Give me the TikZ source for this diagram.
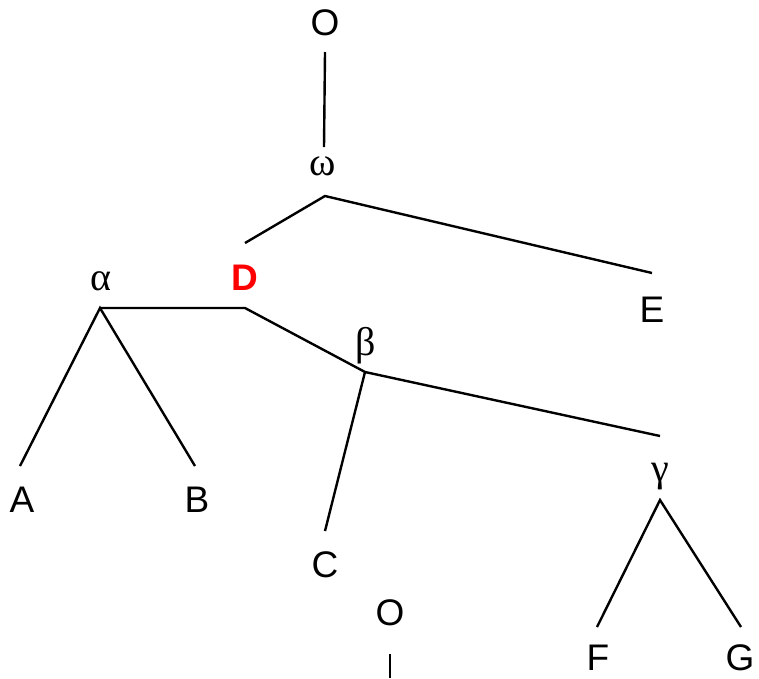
\documentclass[tikz,border=0pt]{standalone}
\usepackage{fontspec}
\setmainfont{Liberation Sans}
\newfontfamily\grk{Liberation Serif}
\begin{document}
\begin{tikzpicture}[x=1pt,y=-1pt,
  lbl/.style={inner sep=0pt,font=\fontsize{37}{42}\selectfont},
  glbl/.style={inner sep=0pt,font=\grk\fontsize{40}{46}\selectfont},
  br/.style={line width=2.4pt,line cap=butt}]
\useasboundingbox (0,0) rectangle (759,678);
% labels
\node[lbl] (O1) at (325,23) {O};
\node[glbl] (w) at (323,166) {ω};
\node[lbl,text=red,font=\bfseries\fontsize{37}{42}\selectfont] (D) at (245,278) {D};
\node[lbl] (E) at (652,310) {E};
\node[glbl] (al) at (101,281) {α};
\node[glbl] (be) at (366,346) {β};
\node[lbl] (A) at (22,500) {A};
\node[lbl] (B) at (197,500) {B};
\node[lbl] (C) at (325,565) {C};
\node[glbl] (ga) at (660,477) {γ};
\node[lbl] (F) at (598,658) {F};
\node[lbl] (G) at (740,658) {G};
\node[lbl] (O2) at (390,613) {O};
% junction points
\coordinate (jw) at (325,196);
\coordinate (ja) at (100,308);
\coordinate (jd) at (245,308);
\coordinate (jb) at (365,372);
\coordinate (jg) at (660,500);
\coordinate (eO) at (325,52);
\coordinate (ew) at (324,147);
\coordinate (eD) at (245,243);
\coordinate (eE) at (652,273);
\coordinate (eA) at (20,466);
\coordinate (eB) at (195,466);
\coordinate (eC) at (325,531);
\coordinate (eg) at (660,436);
\coordinate (eF) at (597,627);
\coordinate (eG) at (741,627);
\coordinate (o2a) at (390,654);
\coordinate (o2b) at (390,678);
% branches
\draw[br] (eO) -- (ew);
\draw[br] (eD) -- (jw) -- (eE);
\draw[br] (eA) -- (ja) -- (eB);
\draw[br] (ja) -- (jd) -- (jb) -- (eg);
\draw[br] (jb) -- (eC);
\draw[br] (eF) -- (jg) -- (eG);
\draw[br] (o2a) -- (o2b);
\end{tikzpicture}
\end{document}
